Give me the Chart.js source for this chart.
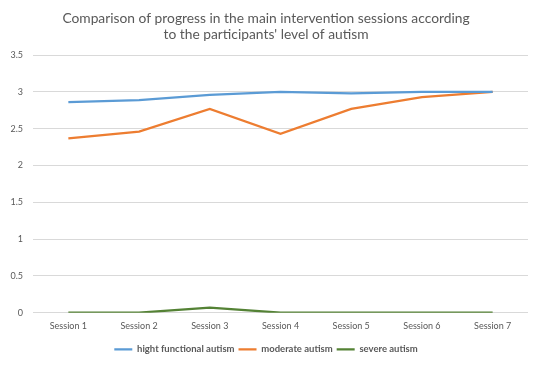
<!DOCTYPE html>
<html>
<head>
<meta charset="utf-8">
<script src="https://cdn.jsdelivr.net/npm/chart.js@4"></script>
<style>
  html, body { margin: 0; padding: 0; background: #fff; }
  #wrap { width: 538px; height: 367px; }
</style>
</head>
<body>
<div id="wrap"><canvas id="chart"></canvas></div>
<script>
const sessions = ['Session 1', 'Session 2', 'Session 3', 'Session 4', 'Session 5', 'Session 6', 'Session 7'];
const highFunctional = [2.86, 2.89, 2.96, 3.0, 2.98, 3.0, 3.0];
const moderate = [2.37, 2.46, 2.77, 2.43, 2.77, 2.93, 3.0];
const severe = [0, 0, 0.07, 0, 0, 0, 0];

const FONT = "Lato, 'Open Sans', sans-serif";
const TEXT_GREY = '#595959';

const line = (label, data, color) => ({
    label,
    data,
    borderColor: color,
    backgroundColor: color,
    borderWidth: 2.25,
    pointRadius: 0,
    tension: 0,
});

new Chart(document.getElementById('chart'), {
    type: 'line',
    data: {
        labels: sessions,
        datasets: [
            line('hight functional autism', highFunctional, '#5b9bd5'),
            line('moderate autism', moderate, '#ed7d31'),
            line('severe autism', severe, '#548235'),
        ],
    },
    options: {
        responsive: true,
        maintainAspectRatio: false,
        animation: false,
        layout: { padding: { left: 4, right: 10, top: 10, bottom: 3 } },
        plugins: {
            title: {
                display: true,
                text: ['Comparison of progress in the main intervention sessions according', "to the participants' level of autism"],
                color: TEXT_GREY,
                font: { family: FONT, size: 13.8, weight: 'normal' },
                lineHeight: 1.6,
                padding: { top: 0, bottom: 12 },
            },
            legend: {
                position: 'bottom',
                labels: {
                    color: TEXT_GREY,
                    font: { family: FONT, size: 9.5, weight: 'bold' },
                    boxWidth: 18,
                    boxHeight: 0,
                    padding: 4,
                },
            },
            tooltip: { enabled: false },
        },
        scales: {
            x: {
                offset: true,
                grid: { display: false, drawTicks: false },
                border: { display: false },
                ticks: { color: TEXT_GREY, font: { family: FONT, size: 9 }, maxRotation: 0, padding: 8 },
                afterFit: (scale) => { scale.height += 1; },
            },
            y: {
                min: 0,
                max: 3.5,
                afterFit: (scale) => { scale.width = 29; },
                ticks: {
                    stepSize: 0.5,
                    color: TEXT_GREY,
                    font: { family: FONT, size: 9 },
                    padding: 10,
                    callback: (v) => String(Math.round(v * 10) / 10),
                },
                grid: { color: '#d9d9d9', lineWidth: 1, drawTicks: false },
                border: { display: false },
            },
        },
    },
});
</script>
</body>
</html>
